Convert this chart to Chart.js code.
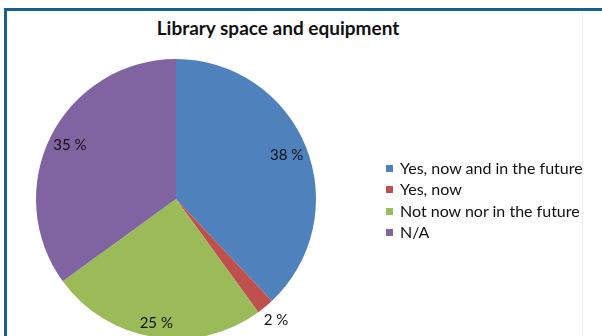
<!DOCTYPE html>
<html>
<head>
<meta charset="utf-8">
<title>Library space and equipment</title>
<script src="https://cdn.jsdelivr.net/npm/chart.js@4.4.1/dist/chart.umd.min.js"></script>
<style>
  html, body { margin: 0; padding: 0; background: #fff; overflow: hidden; }
  #wrap { position: relative; width: 602px; height: 336px; overflow: hidden; font-family: Lato, "Open Sans", sans-serif; }
  #frame { position: absolute; left: 4px; top: 8px; width: 620px; height: 340px;
           border-top: 3px solid #17608f; border-left: 3px solid #17608f; }
  #edge { position: absolute; left: 582px; top: 11px; width: 1px; height: 330px; background: #f2f2f2; }
  h1 { position: absolute; left: 0; width: 556px; top: 16px; margin: 0; text-align: center;
       font-size: 19px; line-height: 24px; font-weight: bold; color: #111; }
  #chart { position: absolute; left: 0; top: 0; }
  #legend { position: absolute; left: 386px; top: 157px; margin: 0; padding: 0; list-style: none; }
  #legend li { height: 21.3px; line-height: 21.3px; font-size: 16px; color: #111; white-space: nowrap; }
  #legend span { display: inline-block; width: 7px; height: 7px; margin-right: 7px; vertical-align: 2px; }
</style>
</head>
<body>
<div id="wrap">
  <div id="frame"></div>
  <div id="edge"></div>
  <h1>Library space and equipment</h1>
  <canvas id="chart" width="602" height="400"></canvas>
  <ul id="legend"></ul>
</div>
<script>
const categories = ['Yes, now and in the future', 'Yes, now', 'Not now nor in the future', 'N/A']
const shares = [38, 2, 25, 35]
const colors = ['#4f81bd', '#c0504d', '#9bbb59', '#8064a2']

// how far out each value label sits, as a fraction of the radius
const labelRadius = [0.85, 1.12, 0.9, 0.85]

const sliceLabels = {
  id: 'sliceLabels',
  afterDatasetsDraw(chart) {
    const ctx = chart.ctx
    const data = chart.data.datasets[0].data
    ctx.save()
    ctx.font = '15px Lato, "Open Sans", sans-serif'
    ctx.fillStyle = '#111'
    ctx.textAlign = 'center'
    ctx.textBaseline = 'middle'
    chart.getDatasetMeta(0).data.forEach((arc, i) => {
      const { x, y, startAngle, endAngle, outerRadius } = arc.getProps(['x', 'y', 'startAngle', 'endAngle', 'outerRadius'], true)
      const mid = (startAngle + endAngle) / 2
      const r = outerRadius * labelRadius[i]
      ctx.fillText(data[i] + ' %', x + Math.cos(mid) * r, y + Math.sin(mid) * r)
    })
    ctx.restore()
  }
}

const chart = new Chart(document.getElementById('chart'), {
  type: 'pie',
  data: {
    labels: categories,
    datasets: [{
      data: shares,
      backgroundColor: colors,
      borderWidth: 0
    }]
  },
  options: {
    responsive: false,
    animation: false,
    layout: { padding: { left: 36, right: 286, top: 59, bottom: 61 } },
    plugins: {
      legend: { display: false },
      tooltip: { enabled: false }
    }
  },
  plugins: [sliceLabels]
})

// legend next to the pie, built from the chart's own data
const legend = document.getElementById('legend')
chart.data.labels.forEach((label, i) => {
  const li = document.createElement('li')
  const box = document.createElement('span')
  box.style.background = chart.data.datasets[0].backgroundColor[i]
  li.appendChild(box)
  li.appendChild(document.createTextNode(label))
  legend.appendChild(li)
})
</script>
</body>
</html>
